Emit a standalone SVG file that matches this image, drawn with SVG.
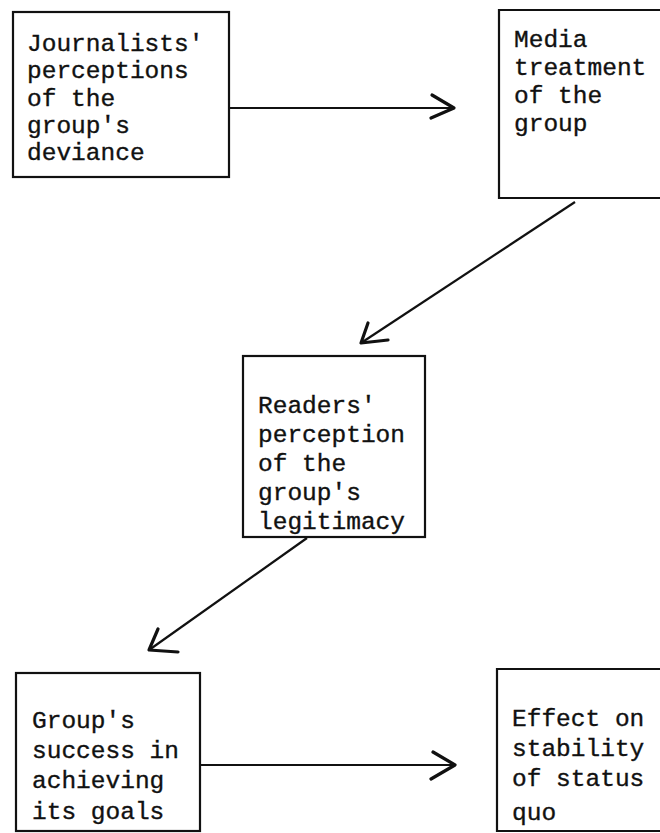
<svg xmlns="http://www.w3.org/2000/svg" width="660" height="833" viewBox="0 0 660 833">
<style>
.box{fill:none;stroke:#111;stroke-width:2.2}
.t{font-family:"Liberation Mono","DejaVu Sans Mono",monospace;font-size:24.5px;fill:#111;stroke:#111;stroke-width:0.35}
.ln{fill:none;stroke:#111;stroke-width:2.2}
.hd{fill:none;stroke:#111;stroke-width:3.2;stroke-linecap:round;stroke-linejoin:round}
</style>
<rect width="660" height="833" fill="#fff"/>
<g id="n1">
<rect class="box" x="13" y="12" width="216" height="165"/>
<text class="t" x="27" y="51">Journalists'</text>
<text class="t" x="27" y="78">perceptions</text>
<text class="t" x="27" y="106">of the</text>
<text class="t" x="27" y="133">group's</text>
<text class="t" x="27" y="160">deviance</text>
</g>
<g id="n2">
<path class="box" d="M662 10 H499 V198 H662"/>
<text class="t" x="514" y="47">Media</text>
<text class="t" x="514" y="75">treatment</text>
<text class="t" x="514" y="103">of the</text>
<text class="t" x="514" y="131">group</text>
</g>
<g id="n3">
<rect class="box" x="243" y="356" width="182" height="181"/>
<text class="t" x="258" y="413">Readers'</text>
<text class="t" x="258" y="442">perception</text>
<text class="t" x="258" y="471">of the</text>
<text class="t" x="258" y="500">group's</text>
<text class="t" x="258" y="529">legitimacy</text>
</g>
<g id="n4">
<rect class="box" x="16" y="673" width="184" height="158"/>
<text class="t" x="32" y="728">Group's</text>
<text class="t" x="32" y="758">success in</text>
<text class="t" x="32" y="788">achieving</text>
<text class="t" x="32" y="819">its goals</text>
</g>
<g id="n5">
<path class="box" d="M662 669 H497 V831 H662"/>
<text class="t" x="512" y="726">Effect on</text>
<text class="t" x="512" y="756">stability</text>
<text class="t" x="512" y="786">of status</text>
<text class="t" x="512" y="820">quo</text>
</g>
<g id="connectors">
<path class="ln" d="M229 108 H452"/>
<path class="hd" d="M432 95 L454 108 L431 118"/>
<path class="ln" d="M575 202 L361 343"/>
<path class="hd" d="M368 323 L361 343 L388 340"/>
<path class="ln" d="M307 538 L149 650"/>
<path class="hd" d="M158 629 L149 650 L178 652"/>
<path class="ln" d="M200 765 H453"/>
<path class="hd" d="M433 752 L455 765 L431 779"/>
</g>
</svg>
